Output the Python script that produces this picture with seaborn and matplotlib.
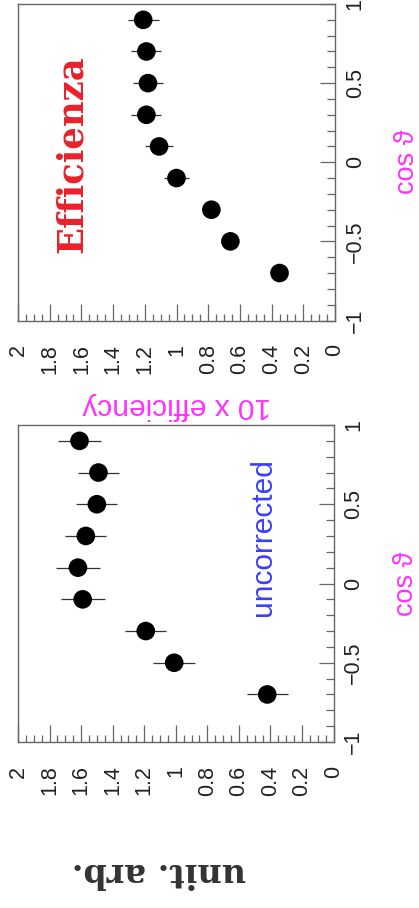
import numpy as np
import matplotlib
matplotlib.use("Agg")
import matplotlib.pyplot as plt
from matplotlib.ticker import MultipleLocator, FuncFormatter
import seaborn as sns

# data (cos theta bins, values, errors)
cos_theta = [-0.7, -0.5, -0.3, -0.1, 0.1, 0.3, 0.5, 0.7, 0.9]
eff_values = [0.35, 0.66, 0.78, 1.00, 1.11, 1.19, 1.18, 1.19, 1.21]
eff_errors = [0.04, 0.05, 0.055, 0.08, 0.09, 0.095, 0.095, 0.095, 0.097]
raw_values = [0.42, 1.01, 1.19, 1.59, 1.62, 1.57, 1.50, 1.49, 1.61]
raw_errors = [0.13, 0.135, 0.13, 0.14, 0.14, 0.13, 0.13, 0.13, 0.135]

sns.set_style("white")
plt.rcParams['font.family'] = ['Liberation Sans', 'DejaVu Sans']

W, H = 419, 908
fig = plt.figure(figsize=(W / 100, H / 100), dpi=100)
fig.patch.set_facecolor("white")

spine_col = "#666666"
magenta = "#ff30ff"


def px_axes(left, top, right, bottom):
    return fig.add_axes([left / W, 1 - bottom / H, (right - left) / W, (bottom - top) / H])


def style_panel(ax):
    ax.set_xlim(2, 0)
    ax.set_ylim(-1, 1)
    for sp in ax.spines.values():
        sp.set_color(spine_col)
        sp.set_linewidth(1.0)
    ax.xaxis.set_major_locator(MultipleLocator(0.2))
    ax.xaxis.set_minor_locator(MultipleLocator(0.05))
    ax.yaxis.set_major_locator(MultipleLocator(0.5))
    ax.yaxis.set_minor_locator(MultipleLocator(0.1))
    fmt = FuncFormatter(lambda v, p: f"{v:g}".replace("-", "\u2212"))
    ax.xaxis.set_major_formatter(fmt)
    ax.yaxis.set_major_formatter(fmt)
    ax.yaxis.tick_right()
    ax.tick_params(axis='x', which='both', direction='in', bottom=True, top=False,
                   colors=spine_col, labelcolor="#222222", labelsize=15.5,
                   labelrotation=90, pad=17)
    ax.tick_params(axis='x', which='major', length=12, width=0.9)
    ax.tick_params(axis='x', which='minor', length=5, width=0.9)
    ax.tick_params(axis='y', which='both', direction='in', left=False, right=True,
                   labelleft=False, labelright=True, colors=spine_col,
                   labelcolor="#222222", labelsize=15.5, labelrotation=90, pad=7)
    ax.tick_params(axis='y', which='major', length=11, width=0.9)
    ax.tick_params(axis='y', which='minor', length=5.5, width=0.9)
    for lab in ax.get_yticklabels():
        lab.set_verticalalignment('center')
    ax.grid(False)


def draw_points(ax, vals, errs):
    ax.errorbar(vals, cos_theta, xerr=errs, fmt='none', ecolor="#333333",
                elinewidth=0.9, capsize=0, zorder=2)
    sns.scatterplot(x=vals, y=cos_theta, ax=ax, s=180, color="black",
                    edgecolor="none", zorder=3, legend=False)


# top panel: efficiency
ax1 = px_axes(18, 4, 335, 320.5)
draw_points(ax1, eff_values, eff_errors)
style_panel(ax1)
ax1.set_xlabel("10 x efficiency", color=magenta, fontsize=21.5, rotation=180)
ax1.xaxis.set_label_coords(0.5, -0.225)
ax1.text(0.171, 0.525, "Efficienza", transform=ax1.transAxes, rotation=90,
         ha='center', va='center', color="#e8212b", fontsize=25.5,
         fontweight='bold', family='DejaVu Serif')
ax1.text(1.185, 0.5, "cos \u03d1", transform=ax1.transAxes, rotation=90,
         ha='left', va='center', color=magenta, fontsize=19.5)

# bottom panel: uncorrected
ax2 = px_axes(18, 425, 333.5, 742)
draw_points(ax2, raw_values, raw_errors)
style_panel(ax2)
ax2.text(0.778, 0.646, "uncorrected", transform=ax2.transAxes, rotation=90,
         ha='center', va='center', color="#3c3cff", fontsize=21.5)
ax2.text(1.19, 0.5, "cos \u03d1", transform=ax2.transAxes, rotation=90,
         ha='left', va='center', color=magenta, fontsize=19.5)
ax2.set_xlabel("unit. arb.", color="#333333", fontsize=24, rotation=180,
               fontweight='bold', family='DejaVu Serif')
ax2.xaxis.set_label_coords(0.446, -0.36)

fig.savefig("out.png", dpi=100, facecolor="white")
